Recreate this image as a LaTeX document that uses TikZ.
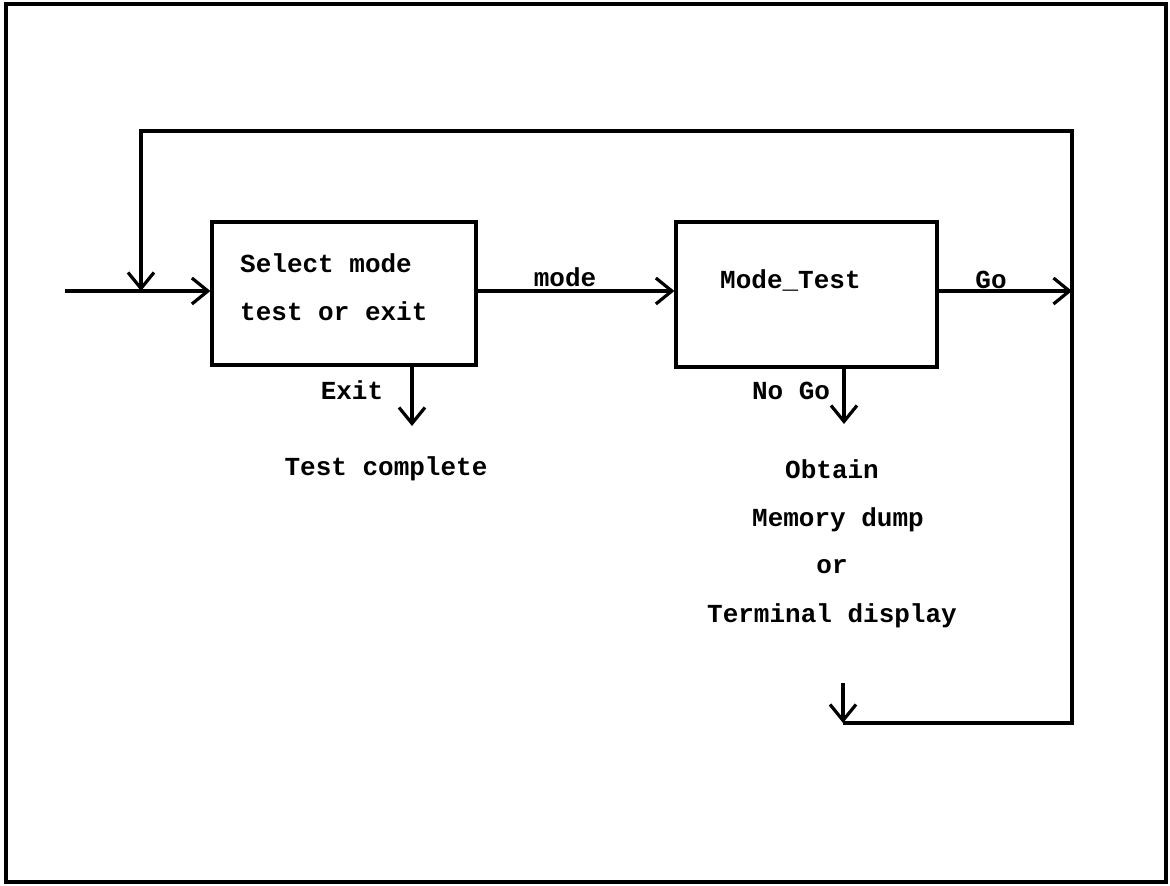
\documentclass[tikz,border=0pt]{standalone}
\usepackage{fontspec}
\setmonofont{Liberation Mono}
\usetikzlibrary{arrows.meta}
\begin{document}
\begin{tikzpicture}[x=1pt,y=-1pt,
  ln/.style={line width=3.2pt},
  arr/.style={ln,-{Straight Barb[length=16pt,width=26pt,line width=3.2pt]}},
  blk/.style={draw,line width=3.2pt,minimum width=264pt,minimum height=143pt,inner sep=0pt},
  txt/.style={font=\fontsize{26}{47}\selectfont\ttfamily\bfseries,inner sep=0pt,anchor=base}]
\useasboundingbox (0,0) rectangle (1170,886);
\draw[line width=4pt] (6,4) rectangle (1166,882);
% boxes
\node[blk] (sel) at (344,293.5) {};
\node[blk,minimum width=261pt,minimum height=145pt] (mt) at (806.5,294.5) {};
% texts
\node[txt,anchor=base west] (sel1) at (240,272) {Select mode};
\node[txt,anchor=base west] (sel2) at (240,320) {test or exit};
\node[txt,anchor=base west] (mttxt) at (720,288) {Mode\_Test};
\node[txt] (lmode) at (565,286) {mode};
\node[txt] (lgo) at (991,288) {Go};
\node[txt] (lexit) at (352,399) {Exit};
\node[txt] (lnogo) at (791,399) {No Go};
\node[txt] (ltc) at (386,475) {Test complete};
\node[txt] (lo1) at (832,478) {Obtain};
\node[txt] (lo2) at (838,526) {Memory dump};
\node[txt] (lo3) at (832,573) {or};
\node[txt] (lo4) at (832,622) {Terminal display};
% coordinates
\coordinate (in) at (65,291);
\coordinate (fb) at (141,291);
\coordinate (tl) at (141,131);
\coordinate (tr) at (1072,131);
\coordinate (rgo) at (1072,291);
\coordinate (br) at (1072,723);
\coordinate (bl) at (843,723);
\coordinate (bt) at (843,683);
\coordinate (exend) at (412,426);
\coordinate (ngend) at (844,424);
% connectors
\draw[arr] (in) -- (sel.west |- in);
\draw[ln] (rgo) -- (tr) -- (tl) -- (fb);
\draw[arr] (tl) -- (fb);
\draw[arr] (sel.east |- in) -- (mt.west |- in);
\draw[arr] (mt.east |- in) -- (rgo);
\draw[ln] (tr) -- (br) -- (bl);
\draw[arr] (bt) -- (bl);
\draw[arr] (sel.south -| exend) -- (exend);
\draw[arr] (mt.south -| ngend) -- (ngend);
\end{tikzpicture}
\end{document}
